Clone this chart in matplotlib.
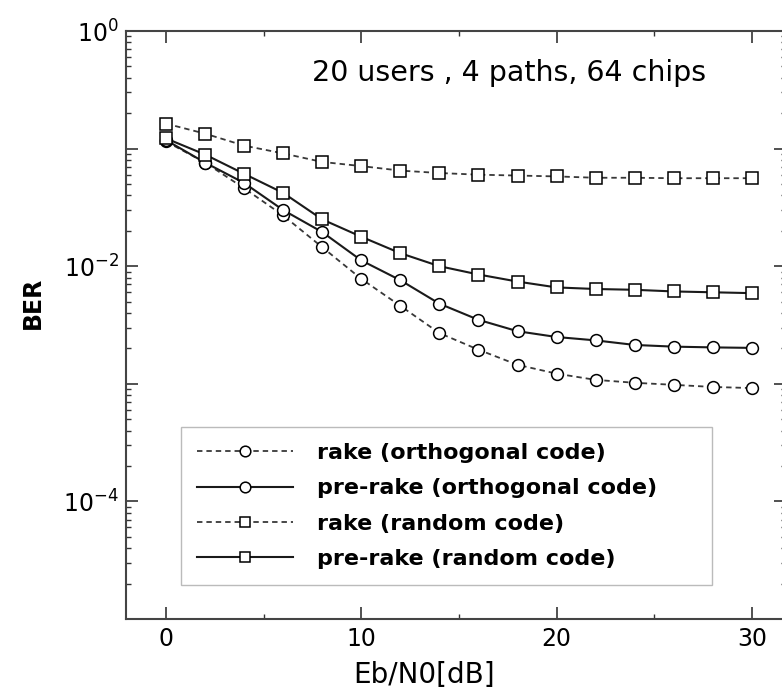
import math
import matplotlib
matplotlib.use("Agg")
import matplotlib.pyplot as plt
from matplotlib.ticker import LogLocator, FixedLocator, FuncFormatter, NullFormatter

plt.rcParams['font.family'] = ['DejaVu Sans']
plt.rcParams['mathtext.fontset'] = 'dejavusans'

# Eb/N0 in dB
snr = [0, 2, 4, 6, 8, 10, 12, 14, 16, 18, 20, 22, 24, 26, 28, 30]

rake_orth = [0.115, 0.076, 0.046, 0.027, 0.0145, 0.0078, 0.0046, 0.0027,
             0.00195, 0.00145, 0.00122, 0.00108, 0.00102, 0.00098, 0.00094, 0.00092]
prerake_orth = [0.118, 0.076, 0.051, 0.030, 0.0195, 0.0112, 0.0076, 0.0048,
                0.0035, 0.0028, 0.0025, 0.00234, 0.00214, 0.00207, 0.00204, 0.00202]
rake_rand = [0.163, 0.134, 0.106, 0.091, 0.077, 0.071, 0.065, 0.062,
             0.060, 0.059, 0.058, 0.0565, 0.0565, 0.056, 0.056, 0.056]
prerake_rand = [0.122, 0.089, 0.061, 0.042, 0.025, 0.0178, 0.0129, 0.0100,
                0.0085, 0.0074, 0.0066, 0.0064, 0.0063, 0.0061, 0.0060, 0.0059]

labels = ['rake (orthogonal code)', 'pre-rake (orthogonal code)',
          'rake (random code)', 'pre-rake (random code)']

W, H = 782, 696
fig = plt.figure(figsize=(W / 100, H / 100), dpi=100)
ax = fig.add_axes([126 / W, (H - 619) / H, (786 - 126) / W, (619 - 31) / H])

dash = (0, (3, 2.2))
mk = dict(markerfacecolor='white', markeredgecolor='black', markeredgewidth=1.1)
ax.plot(snr, rake_orth, color='#383838', lw=1.3, ls=dash, marker='o', ms=8.5, label=labels[0], **mk)
ax.plot(snr, prerake_orth, color='#1a1a1a', lw=1.5, ls='-', marker='o', ms=8.5, label=labels[1], **mk)
ax.plot(snr, rake_rand, color='#383838', lw=1.3, ls=dash, marker='s', ms=8, label=labels[2], **mk)
ax.plot(snr, prerake_rand, color='#1a1a1a', lw=1.5, ls='-', marker='s', ms=8, label=labels[3], **mk)

ax.set_yscale('log')
ax.set_ylim(1e-5, 1e0)
ax.set_xlim(-2.05, 31.75)

ax.xaxis.set_major_locator(FixedLocator([0, 10, 20, 30]))
ax.xaxis.set_minor_locator(FixedLocator([5, 15, 25]))
ax.yaxis.set_major_locator(LogLocator(base=10, numticks=10))
ax.yaxis.set_minor_locator(LogLocator(base=10, subs=range(2, 10), numticks=20))
ax.yaxis.set_minor_formatter(NullFormatter())


def dec_label(v, pos):
    e = int(round(math.log10(v)))
    if e % 2:
        return ''
    return r'$10^{%d}$' % e if e == 0 else r'$10^{-%d}$' % -e


ax.yaxis.set_major_formatter(FuncFormatter(dec_label))

ax.tick_params(which='both', direction='in', top=True, right=True, colors='#333333',
               labelsize=17, labelcolor='black')
ax.tick_params(which='major', length=8.5, width=1.2)
ax.tick_params(which='minor', length=3.5, width=1.0)
ax.tick_params(axis='x', pad=6)
ax.tick_params(axis='y', pad=5)

for s in ax.spines.values():
    s.set_color('#444444')
    s.set_linewidth(1.5)

ax.set_xlabel('Eb/N0[dB]', fontsize=20)
ax.xaxis.set_label_coords(0.4515, -0.109)
ax.xaxis.label.set_va('baseline')
ax.set_ylabel('BER', fontsize=17, fontweight='bold')
ax.yaxis.set_label_coords(-0.141, 0.537)
ax.yaxis.label.set_va('center')

ax.text(0.58, 0.915, '20 users , 4 paths, 64 chips', transform=ax.transAxes,
        fontsize=20.5, ha='center', va='baseline')

leg = ax.legend(loc='upper left', bbox_to_anchor=(0.0833, 0.0, 0.8045, 0.3265),
                mode='expand', borderaxespad=0,
                prop={'weight': 'bold', 'size': 16}, frameon=True, fancybox=False,
                edgecolor='#aaaaaa', handlelength=4.3, handletextpad=1.1,
                labelspacing=0.69, borderpad=0.72, markerscale=0.9)
leg.get_frame().set_linewidth(1.0)

fig.savefig('out.png', dpi=100)
